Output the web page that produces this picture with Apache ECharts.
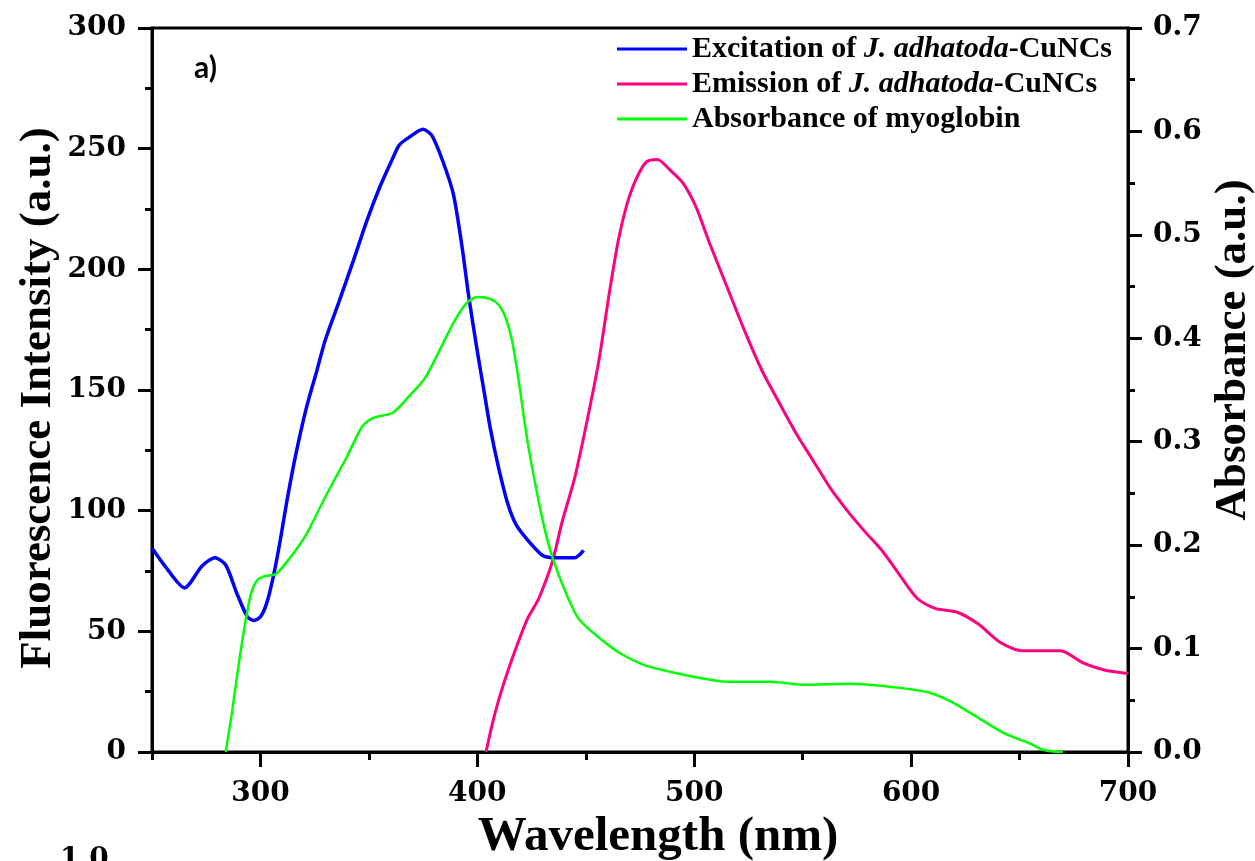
<!DOCTYPE html>
<html>
<head>
<meta charset="utf-8">
<title>Excitation, emission and absorbance spectra</title>
<script src="https://cdn.jsdelivr.net/npm/echarts@6/dist/echarts.min.js"></script>
<style>
  html, body { margin: 0; padding: 0; background: #fff; }
  #chart { width: 1255px; height: 861px; }
</style>
</head>
<body>
<div id="chart"></div>
<script>
// Excitation spectrum of J. adhatoda-CuNCs: [wavelength nm, intensity a.u.]
const excitation = [
  [250, 84.5], [256, 77], [265, 68], [273, 77], [279, 80.5], [284, 77.5],
  [289, 66], [294, 56], [297, 54.5], [300, 56], [303, 62], [306, 73],
  [309, 87], [312, 103], [316, 122], [321, 142], [326, 158], [330, 171],
  [336, 186], [343, 204], [349, 220], [355, 234], [361, 246], [364, 251.5],
  [369, 255], [375, 258], [379, 255.5], [384, 245], [389, 231], [393, 209],
  [396, 189], [400, 166], [403, 150], [406, 134], [410, 117], [414, 103],
  [418, 94], [424, 87], [430, 81.5], [435, 80.5], [445, 80.5], [449, 83.5]
];

// Emission spectrum of J. adhatoda-CuNCs: [wavelength nm, intensity a.u.]
const emission = [
  [404, 0], [407, 12], [411, 25], [417, 41], [423, 55], [428, 63], [432, 72],
  [435, 80], [439, 95], [445, 114], [451, 139], [456, 162], [461, 191],
  [465, 212], [469, 227], [473, 237], [478, 244.5], [483, 245.5], [489, 241],
  [495, 235.5], [501, 225.5], [507, 211], [515, 193], [523, 175], [531, 158.5],
  [539, 145], [547, 132], [555, 120.5], [563, 109], [571, 99.5], [579, 91],
  [587, 83], [595, 73], [603, 63.5], [611, 59.5], [621, 58], [631, 53],
  [641, 45.5], [651, 42], [669, 42], [679, 37], [689, 34], [700, 32.5]
];

// Absorbance spectrum of myoglobin: [wavelength nm, absorbance a.u.]
const absorbance = [
  [284, 0], [287, 0.04], [290, 0.085], [293, 0.125], [295.5, 0.152],
  [298.5, 0.166], [302, 0.17], [307, 0.172], [313, 0.186], [321, 0.21],
  [330, 0.247], [339.5, 0.284], [347, 0.315], [352, 0.323], [361, 0.328],
  [369, 0.345], [376, 0.362], [383, 0.39], [389, 0.415], [395, 0.434],
  [400, 0.44], [406, 0.438], [410, 0.432], [413, 0.42], [416, 0.398],
  [419, 0.36], [423, 0.302], [427, 0.256], [431, 0.216], [435, 0.186],
  [441, 0.153], [447, 0.128], [457, 0.109], [467, 0.094], [477, 0.084],
  [487, 0.0785], [499, 0.073], [515, 0.068], [535, 0.068], [551, 0.065],
  [571, 0.066], [595, 0.062], [609, 0.057], [619, 0.048], [631, 0.033],
  [643, 0.018], [655, 0.008], [661, 0.002], [670, 0]
];

// Axis ranges and tick positions
const xRange = [250, 700];
const xMajorTicks = [300, 400, 500, 600, 700];
const xMinorTicks = [250, 350, 450, 550, 650];
const leftRange = [0, 300];
const rightRange = [0, 0.7];

const seriesNames = [
  'Excitation of J. adhatoda-CuNCs',
  'Emission of J. adhatoda-CuNCs',
  'Absorbance of myoglobin'
];

const serifBold = 'Liberation Serif';
const tickFont = 'DejaVu Serif';
const titleFont = 'bold 45px "Liberation Serif", serif';

const tickLabel = {
  color: '#000',
  fontFamily: tickFont,
  fontWeight: 'bold',
  fontSize: 28
};

const chart = echarts.init(document.getElementById('chart'), null, { renderer: 'canvas' });

chart.setOption({
  backgroundColor: '#fff',
  animation: false,
  grid: {
    left: 152, right: 127, top: 28, bottom: 109,
    outerBoundsMode: 'none',
    containLabel: false,
    show: true, borderColor: '#000', borderWidth: 3, backgroundColor: 'transparent'
  },
  legend: {
    orient: 'vertical',
    left: 612,
    top: 29,
    itemWidth: 70,
    itemHeight: 3,
    itemGap: 5,
    icon: 'rect',
    data: seriesNames,
    formatter: function (name) {
      const m = name.match(/^(.*)(J\. adhatoda)(.*)$/);
      if (m) {
        return '{n|' + m[1] + '}{i|' + m[2] + '}{n|' + m[3] + '}';
      }
      return '{n|' + name + '}';
    },
    textStyle: {
      color: '#000',
      rich: {
        n: { fontFamily: serifBold, fontWeight: 'bold', fontSize: 30, color: '#000' },
        i: { fontFamily: serifBold, fontWeight: 'bold', fontStyle: 'italic', fontSize: 30, color: '#000' }
      }
    }
  },
  xAxis: [
    {
      type: 'value',
      min: xRange[0], max: xRange[1], interval: 50,
      position: 'bottom',
      name: 'Wavelength (nm)',
      nameLocation: 'middle',
      nameGap: 56,
      nameTextStyle: {
        fontFamily: serifBold, fontWeight: 'bold', fontSize: 49, color: '#000',
        padding: [0, 0, 0, 36]
      },
      axisLine: { show: true, onZero: false, lineStyle: { color: '#000', width: 3 } },
      axisTick: { show: true, inside: false, length: 15, customValues: xMajorTicks, lineStyle: { color: '#000', width: 3 } },
      axisLabel: Object.assign({ margin: 28, customValues: xMajorTicks }, tickLabel),
      splitLine: { show: false }
    },
    {
      type: 'value',
      min: xRange[0], max: xRange[1], interval: 50,
      position: 'bottom',
      axisLine: { show: false },
      axisTick: { show: true, inside: false, length: 8, customValues: xMinorTicks, lineStyle: { color: '#000', width: 3 } },
      axisLabel: { show: false },
      splitLine: { show: false }
    }
  ],
  yAxis: [
    {
      type: 'value',
      min: leftRange[0], max: leftRange[1], interval: 50,
      position: 'left',
      axisLine: { show: true, onZero: false, lineStyle: { color: '#000', width: 3 } },
      axisTick: { show: true, inside: false, length: 14, lineStyle: { color: '#000', width: 3 } },
      minorTick: { show: true, splitNumber: 2, length: 7, lineStyle: { color: '#000', width: 3 } },
      axisLabel: Object.assign({ margin: 26 }, tickLabel),
      splitLine: { show: false },
      minorSplitLine: { show: false }
    },
    {
      type: 'value',
      min: rightRange[0], max: rightRange[1], interval: 0.1,
      position: 'right',
      axisLine: { show: true, onZero: false, lineStyle: { color: '#000', width: 3 } },
      axisTick: { show: true, inside: false, length: 14, lineStyle: { color: '#000', width: 3 } },
      minorTick: { show: true, splitNumber: 2, length: 7, lineStyle: { color: '#000', width: 3 } },
      axisLabel: Object.assign({
        margin: 25,
        formatter: function (v) { return v.toFixed(1); }
      }, tickLabel),
      splitLine: { show: false },
      minorSplitLine: { show: false }
    }
  ],
  series: [
    {
      name: seriesNames[0],
      type: 'line',
      xAxisIndex: 0, yAxisIndex: 0,
      data: excitation,
      smooth: 0.25,
      showSymbol: false, symbol: 'none',
      color: '#0000ff',
      lineStyle: { color: '#0000ff', width: 3.5 },
      z: 3
    },
    {
      name: seriesNames[1],
      type: 'line',
      xAxisIndex: 0, yAxisIndex: 0,
      data: emission,
      smooth: 0.25,
      showSymbol: false, symbol: 'none',
      color: '#ff0080',
      lineStyle: { color: '#ff0080', width: 3 },
      z: 2
    },
    {
      name: seriesNames[2],
      type: 'line',
      xAxisIndex: 0, yAxisIndex: 1,
      data: absorbance,
      smooth: 0.25,
      showSymbol: false, symbol: 'none',
      color: '#00ff00',
      lineStyle: { color: '#00ff00', width: 2.5 },
      z: 4
    }
  ],
  graphic: [
    {
      // left axis title, reads bottom to top
      type: 'text',
      x: 38, y: 398,
      rotation: Math.PI / 2,
      style: {
        text: 'Fluorescence Intensity (a.u.)', font: titleFont, fill: '#000',
        textAlign: 'center', textVerticalAlign: 'middle'
      }
    },
    {
      // right axis title, reads bottom to top
      type: 'text',
      x: 1233, y: 350,
      rotation: Math.PI / 2,
      style: {
        text: 'Absorbance (a.u.)', font: titleFont, fill: '#000',
        textAlign: 'center', textVerticalAlign: 'middle'
      }
    },
    {
      type: 'text',
      left: 194, top: 53,
      style: { text: 'a)', font: 'bold 30px Lato, "Liberation Sans", sans-serif', fill: '#000' }
    },
    {
      type: 'text',
      left: 60, top: 846,
      style: { text: '1.0', font: 'bold 28px "DejaVu Serif", serif', fill: '#000' }
    }
  ]
});
</script>
</body>
</html>
